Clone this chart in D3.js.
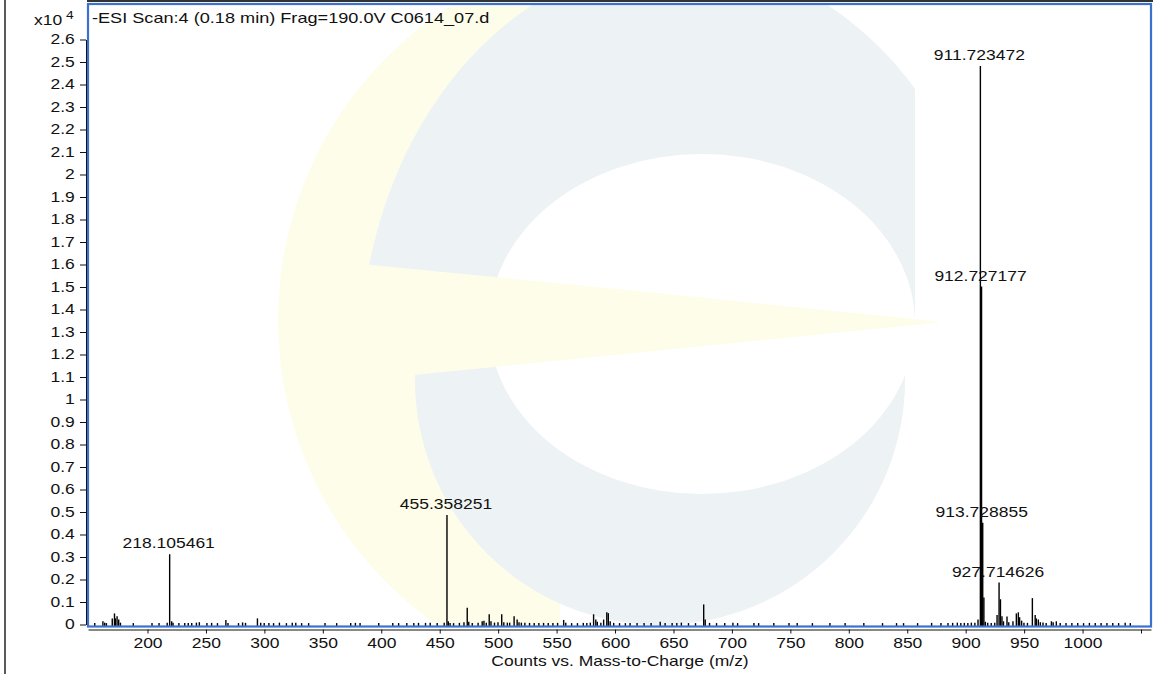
<!DOCTYPE html>
<html>
<head>
<meta charset="utf-8">
<script src="https://cdn.jsdelivr.net/npm/d3@7"></script>
<style>
  body { margin: 0; background: #fff; }
  svg text { font-family: "Liberation Sans", Arial, sans-serif; fill: #111; }
</style>
</head>
<body>
<svg id="chart" width="1153" height="674"></svg>
<script>
// 谱图数据 (m/z, 计数 x10^4)
const peakMz = [
  154, 161, 162.5, 164, 169, 170.9, 171.6, 173.1, 174.5, 176, 187, 203, 209, 216,
  218.105461, 219.8, 221, 226, 231, 234, 237, 241, 243.5, 250, 254, 259, 266.2, 268,
  277, 280.5, 283, 293.2, 296, 299, 303, 307, 312, 318, 323, 326, 331, 337, 351, 361,
  373, 377, 381, 397, 409, 414, 421, 427, 431, 437, 441, 447, 453,
  455.358251, 456.5, 458, 461, 466, 469.9, 472.7, 474, 477, 482, 485.5, 487, 489,
  491.5, 493, 496, 499, 502.2, 504, 507, 509, 512.8, 515.4, 517, 519, 522, 526, 530,
  534, 538, 542, 546, 550, 555.2, 557, 562, 567, 572, 575, 578, 580.8, 582.7, 584,
  587, 589.4, 592.1, 593.4, 595, 598, 603, 608, 612, 618, 624, 630, 637.8, 642, 648,
  652, 655.9, 662, 668, 675, 676.3, 680, 686, 693, 700, 704, 718, 722, 735, 748, 755,
  768, 783, 796, 812, 828, 840, 846, 858, 870, 878, 884, 888, 892, 895, 898, 901, 904,
  907, 909.7, 911.723472, 912.727177, 913.728855, 914.73, 916, 918, 921, 924, 926,
  927.714626, 928.9, 930.2, 931.5, 934.5, 936, 939.6, 942.5, 944.2, 945.3, 947, 949,
  952, 956.2, 958.6, 959.6, 961.3, 963, 965.3, 968, 972.5, 974, 976.7, 980, 985, 990,
  995, 1000, 1005, 1010, 1015, 1020, 1025, 1030, 1035.6, 1040
];
const peakCounts = [
  0.004, 0.012, 0.006, 0.004, 0.025, 0.047, 0.025, 0.035, 0.02, 0.006, 0.004, 0.004, 0.004, 0.006,
  0.31, 0.012, 0.006, 0.005, 0.004, 0.005, 0.004, 0.006, 0.008, 0.004, 0.005, 0.004, 0.018, 0.005,
  0.004, 0.007, 0.005, 0.025, 0.006, 0.005, 0.005, 0.004, 0.006, 0.004, 0.006, 0.006, 0.004, 0.004, 0.004, 0.004,
  0.005, 0.005, 0.004, 0.004, 0.005, 0.004, 0.004, 0.005, 0.005, 0.005, 0.006, 0.004, 0.006,
  0.484, 0.012, 0.005, 0.004, 0.005, 0.008, 0.072, 0.01, 0.005, 0.006, 0.012, 0.014, 0.006,
  0.043, 0.012, 0.006, 0.008, 0.043, 0.008, 0.006, 0.006, 0.035, 0.02, 0.008, 0.006, 0.006, 0.005, 0.005,
  0.005, 0.005, 0.005, 0.005, 0.005, 0.018, 0.006, 0.004, 0.004, 0.005, 0.004, 0.006, 0.043, 0.02, 0.01,
  0.006, 0.02, 0.052, 0.048, 0.012, 0.005, 0.004, 0.004, 0.004, 0.004, 0.004, 0.004, 0.01, 0.004, 0.004,
  0.004, 0.006, 0.004, 0.004, 0.087, 0.02, 0.005, 0.004, 0.004, 0.006, 0.004, 0.004, 0.004, 0.004, 0.004, 0.005,
  0.004, 0.005, 0.004, 0.004, 0.004, 0.004, 0.004, 0.004, 0.005, 0.005, 0.004, 0.005, 0.006, 0.005, 0.005, 0.005, 0.006,
  0.006, 0.02, 2.48, 1.50, 0.45, 0.118, 0.01, 0.006, 0.005, 0.006, 0.04,
  0.184, 0.11, 0.035, 0.012, 0.033, 0.008, 0.012, 0.047, 0.052, 0.03, 0.015, 0.006,
  0.005, 0.115, 0.04, 0.025, 0.02, 0.008, 0.007, 0.005, 0.012, 0.008, 0.012, 0.005, 0.005, 0.005,
  0.005, 0.004, 0.005, 0.004, 0.005, 0.004, 0.005, 0.004, 0.006, 0.004
];

// 标注的峰
const labelMz = [218.105461, 455.358251, 911.723472, 912.727177, 913.728855, 927.714626];
const labelText = ["218.105461", "455.358251", "911.723472", "912.727177", "913.728855", "927.714626"];

// 坐标轴刻度
const xTickValues = [200, 250, 300, 350, 400, 450, 500, 550, 600, 650, 700, 750, 800, 850, 900, 950, 1000, 1050];
const xTickLabels = ["200", "250", "300", "350", "400", "450", "500", "550", "600", "650", "700", "750", "800", "850", "900", "950", "1000", ""];
const yTickLabels = ["0", "0.1", "0.2", "0.3", "0.4", "0.5", "0.6", "0.7", "0.8", "0.9", "1", "1.1", "1.2", "1.3",
  "1.4", "1.5", "1.6", "1.7", "1.8", "1.9", "2", "2.1", "2.2", "2.3", "2.4", "2.5", "2.6"];

const titleText = "-ESI Scan:4 (0.18 min) Frag=190.0V C0614_07.d";
const xAxisTitle = "Counts vs. Mass-to-Charge (m/z)";

// 文字横向拉伸
const SX = 1.25;

/**
 * 背景水印 (淡色 logo)
 */
function drawWatermark(svg, box) {
    let defs = svg.append("defs");
    defs.append("clipPath").attr("id", "plotClip")
        .append("rect")
        .attr("x", box.left).attr("y", box.top)
        .attr("width", box.right - box.left).attr("height", box.bottom - box.top);
    defs.append("clipPath").attr("id", "leftClip")
        .append("rect").attr("x", 0).attr("y", 0).attr("width", 560).attr("height", 674);
    defs.append("clipPath").attr("id", "upperClip")
        .append("rect").attr("x", 0).attr("y", 0).attr("width", 915).attr("height", 322);
    defs.append("clipPath").attr("id", "lowerClip")
        .append("rect").attr("x", 0).attr("y", 322).attr("width", 915).attr("height", 360);

    let wm = svg.append("g").attr("clip-path", "url(#plotClip)");
    let yellow = "#fdfdea", blue = "#edf2f5";

    // 左侧黄色月牙
    wm.append("circle").attr("cx", 650).attr("cy", 320).attr("r", 372)
        .attr("fill", yellow).attr("clip-path", "url(#leftClip)");
    // 蓝色 "e"
    wm.append("ellipse").attr("cx", 680).attr("cy", 360).attr("rx", 320).attr("ry", 400)
        .attr("fill", blue).attr("clip-path", "url(#upperClip)");
    wm.append("circle").attr("cx", 660).attr("cy", 380).attr("r", 245)
        .attr("fill", blue).attr("clip-path", "url(#lowerClip)");
    wm.append("ellipse").attr("cx", 702).attr("cy", 324).attr("rx", 213).attr("ry", 170)
        .attr("fill", "#fff");
    // 黄色楔形
    wm.append("path")
        .attr("d", "M300,258 Q650,292 942,322 Q650,352 300,386 Z")
        .attr("fill", yellow);
}

function drawSpectrum() {
    let svg = d3.select("#chart");

    let box = {left: 88, right: 1151, top: 4, bottom: 626.5};

    // x 比例尺: 200 -> 147.5, 1050 -> 1141
    let k = (1141 - 147.5) / 850;
    let x = d3.scaleLinear()
        .domain([200 - (147.5 - box.left) / k, 1050 + (box.right - 1141) / k])
        .range([box.left, box.right]);

    let y = d3.scaleLinear()
        .domain([0, 2.6])
        .range([624.5, 39.5]);

    drawWatermark(svg, box);

    // 峰
    let peaks = peakMz.map((m, i) => ({mz: m, v: peakCounts[i]}));
    svg.append("g")
        .selectAll("line")
        .data(peaks)
        .enter()
        .append("line")
        .attr("x1", d => x(d.mz) + 1)
        .attr("x2", d => x(d.mz) + 1)
        .attr("y1", y(0) + 1.5)
        .attr("y2", d => y(d.v) - 0.5)
        .attr("stroke", "#000")
        .attr("stroke-width", 1.4);

    // 峰标注
    let lookup = new Map(peaks.map(d => [d.mz, d.v]));
    svg.append("g")
        .selectAll("text")
        .data(labelMz)
        .enter()
        .append("text")
        .attr("transform", d => "translate(" + x(d) + "," + (y(lookup.get(d)) - 6.5) + ") scale(" + SX + ",1)")
        .attr("text-anchor", "middle")
        .style("font-size", "14px")
        .text((d, i) => labelText[i]);

    // 边框
    svg.append("line")
        .attr("x1", 87).attr("x2", 1153).attr("y1", 1).attr("y2", 1)
        .attr("stroke", "#333").attr("stroke-width", 2);
    svg.append("line")
        .attr("x1", 5).attr("x2", 5).attr("y1", 0).attr("y2", 674)
        .attr("stroke", "#222").attr("stroke-width", 1.5);
    svg.append("rect")
        .attr("x", box.left).attr("y", box.top)
        .attr("width", box.right - box.left).attr("height", box.bottom - box.top)
        .attr("fill", "none")
        .attr("stroke", "#3b72d0")
        .attr("stroke-width", 2.2);

    // x 轴
    let xAxis = d3.axisBottom(x)
        .tickValues(xTickValues)
        .tickFormat((d, i) => xTickLabels[i])
        .tickSize(4)
        .tickSizeOuter(0)
        .tickPadding(5);
    let gx = svg.append("g")
        .attr("transform", "translate(0,629.5)")
        .call(xAxis);
    gx.selectAll("text")
        .style("font-size", "14px")
        .attr("transform", "scale(" + SX + ",1)");

    // y 轴
    let yAxis = d3.axisLeft(y)
        .tickValues(yTickLabels.map(Number))
        .tickFormat((d, i) => yTickLabels[i])
        .tickSize(6)
        .tickSizeOuter(0)
        .tickPadding(3);
    let gy = svg.append("g")
        .attr("transform", "translate(86,0)")
        .call(yAxis);
    gy.selectAll("text")
        .style("font-size", "14px")
        .attr("transform", "scale(" + SX + ",1)");

    svg.selectAll(".domain, .tick line").attr("stroke", "#111");

    // 标题与单位
    svg.append("text")
        .attr("transform", "translate(92,23) scale(" + SX + ",1)")
        .style("font-size", "14.5px")
        .text(titleText);

    let unit = svg.append("text")
        .attr("transform", "translate(34,25) scale(" + SX + ",1)")
        .style("font-size", "14px");
    unit.append("tspan").text("x10");
    unit.append("tspan").attr("dx", 3).attr("dy", -6).style("font-size", "11px").text("4");

    svg.append("text")
        .attr("transform", "translate(620,666) scale(" + SX + ",1)")
        .attr("text-anchor", "middle")
        .style("font-size", "14px")
        .text(xAxisTitle);
}

drawSpectrum();
</script>
</body>
</html>
